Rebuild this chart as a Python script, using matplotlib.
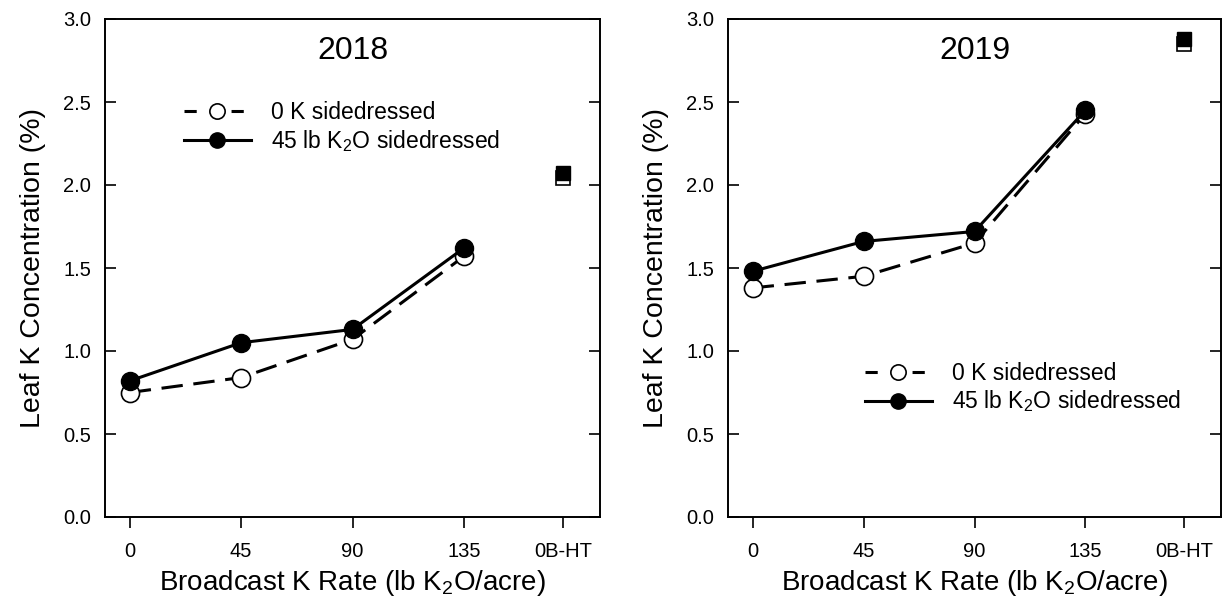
import matplotlib
matplotlib.use("Agg")
import matplotlib.pyplot as plt
from matplotlib.lines import Line2D

# -------------------------------------------------------
# DATA
# -------------------------------------------------------
rates = [0, 45, 90, 135]
tick_pos = [0, 45, 90, 135, 175]
tick_labels = ["0", "45", "90", "135", "0B-HT"]
ht_x = 175

years = ["2018", "2019"]
no_side_2018 = [0.75, 0.84, 1.07, 1.57]
side_2018 = [0.82, 1.05, 1.13, 1.62]
ht_no_side_2018 = 2.04
ht_side_2018 = 2.07

no_side_2019 = [1.38, 1.45, 1.65, 2.43]
side_2019 = [1.48, 1.66, 1.72, 2.45]
ht_no_side_2019 = 2.85
ht_side_2019 = 2.88

series_labels = ["0 K sidedressed", "45 lb K$_\\mathrm{2}$O sidedressed"]

plt.rcParams["font.family"] = ["Liberation Sans", "DejaVu Sans"]
plt.rcParams["mathtext.fontset"] = "custom"
plt.rcParams["mathtext.rm"] = "Liberation Sans"

fig = plt.figure(figsize=(12.24, 5.98), dpi=100)
ax1 = fig.add_axes([105 / 1224, 1 - 517 / 598, 495 / 1224, 498 / 598])
ax2 = fig.add_axes([728 / 1224, 1 - 517 / 598, 493 / 1224, 498 / 598])

panels = [
    (ax1, years[0], no_side_2018, side_2018, ht_no_side_2018, ht_side_2018, (0.16, 0.835)),
    (ax2, years[1], no_side_2019, side_2019, ht_no_side_2019, ht_side_2019, (0.278, 0.311)),
]

# legend proxies (short dash either side of the open circle)
leg_open = Line2D([], [], color="black", lw=2.2, dashes=(4, 11.4),
                  marker="o", ms=11, mfc="white", mec="black", mew=1.2)
leg_fill = Line2D([], [], color="black", lw=2.2,
                  marker="o", ms=11, mfc="black", mec="black")

for ax, yr, open_vals, fill_vals, ht_open, ht_fill, leg_pos in panels:
    ax.plot(rates, open_vals, color="black", lw=2.2, dashes=(7, 3.5),
            marker="o", ms=13, mfc="white", mec="black", mew=1.2, zorder=3)
    ax.plot(rates, fill_vals, color="black", lw=2.2,
            marker="o", ms=13, mfc="black", mec="black", zorder=4)
    # 0B-HT treatment shown as squares
    ax.plot([ht_x], [ht_open], marker="s", ms=10, mfc="white", mec="black",
            mew=1.2, ls="none", zorder=3)
    ax.plot([ht_x], [ht_fill], marker="s", ms=10, mfc="black", mec="black",
            ls="none", zorder=4)

    ax.set_xlim(-10, 190)
    ax.set_ylim(0, 3.0)
    ax.set_yticks([0, 0.5, 1.0, 1.5, 2.0, 2.5, 3.0])
    ax.set_yticklabels(["0.0", "0.5", "1.0", "1.5", "2.0", "2.5", "3.0"])
    ax.set_xticks(tick_pos)
    ax.set_xticklabels(tick_labels)
    ax.tick_params(axis="y", direction="in", right=True, length=8, width=1.2,
                   labelsize=14.5, pad=10)
    ax.tick_params(axis="x", direction="out", length=8, width=1.2,
                   labelsize=14.5, pad=10)
    for sp in ax.spines.values():
        sp.set_linewidth(1.4)

    ax.set_xlabel("Broadcast K Rate (lb K$_\\mathrm{2}$O/acre)", fontsize=20, labelpad=5)
    ax.set_ylabel("Leaf K Concentration (%)", fontsize=20.5, labelpad=12)
    ax.text(0.5, 0.935, yr, transform=ax.transAxes, ha="center", va="center",
            fontsize=23)

    ax.legend([leg_open, leg_fill], series_labels,
              loc="upper left", bbox_to_anchor=leg_pos, frameon=False,
              fontsize=16.5, handlelength=2.9, handletextpad=0.9,
              labelspacing=0.15, borderaxespad=0, borderpad=0)

fig.savefig("out.png", dpi=100)
